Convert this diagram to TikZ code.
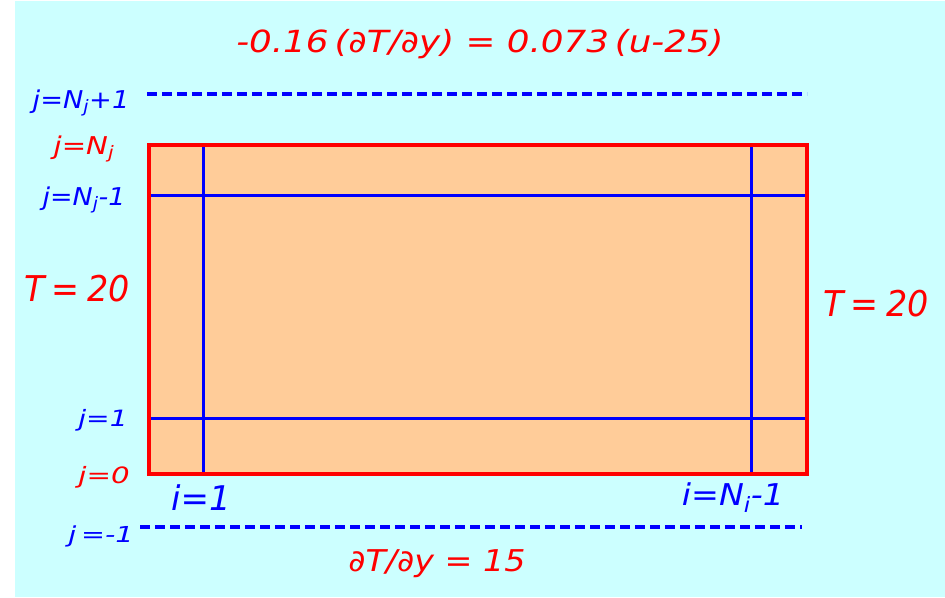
\documentclass[tikz,border=0pt]{standalone}
\usepackage{fontspec}
\setmainfont{DejaVu Sans}
\definecolor{bgcyan}{HTML}{CCFFFF}
\definecolor{plate}{HTML}{FFCC99}
\definecolor{rred}{HTML}{FF0000}
\definecolor{bblue}{HTML}{0000FF}
\newcommand{\wx}[2]{\scalebox{#1}[1]{#2}}
\tikzset{
  lbl/.style={inner sep=0pt, anchor=base, font=\itshape\fontsize{#1}{#1}\selectfont},
  redlbl/.style={lbl=#1, text=rred},
  bluelbl/.style={lbl=#1, text=bblue},
  gridline/.style={draw=bblue, line width=3pt},
  ghostline/.style={draw=bblue, line width=4pt, dash pattern=on 10pt off 5pt},
  border/.style={draw=rred, line width=3.3pt, fill=plate}
}
\begin{document}
\begin{tikzpicture}[x=1pt, y=-1pt]
\useasboundingbox (0,0) rectangle (945,597);
\fill[white] (0,0) rectangle (945,597);
\fill[bgcyan] (15,1) rectangle (945,597);
% plate
\coordinate (p1) at (149,145);
\coordinate (p2) at (807,474);
\draw[border] (p1) rectangle (p2);
% grid lines
\coordinate (v1t) at (203,145); \coordinate (v1b) at (203,474);
\coordinate (v2t) at (751,145); \coordinate (v2b) at (751,474);
\coordinate (h1l) at (149,195); \coordinate (h1r) at (807,195);
\coordinate (h2l) at (149,418); \coordinate (h2r) at (807,418);
\draw[gridline] (v1t) -- (v1b);
\draw[gridline] (v2t) -- (v2b);
\draw[gridline] (h1l) -- (h1r);
\draw[gridline] (h2l) -- (h2r);
\draw[border, fill=none] (p1) rectangle (p2);
% ghost lines
\coordinate (gtl) at (147,94); \coordinate (gtr) at (807,94);
\coordinate (gbl) at (140,527); \coordinate (gbr) at (802,527);
\draw[ghostline] (gtl) -- (gtr);
\draw[ghostline] (gbl) -- (gbr);
% labels
\node[redlbl=30.5] (title) at (480,52) {\wx{1.17}{-0.16\,(∂T/∂y) = 0.073\,(u-25)}};
\node[bluelbl=24.5] (jNp) at (81,108) {\wx{1.11}{j=N\textsubscript{j}+1}};
\node[redlbl=24.5] (jN) at (84,154) {\wx{1.19}{j=N\textsubscript{j}}};
\node[bluelbl=24.5] (jNm) at (84,205) {\wx{1.10}{j=N\textsubscript{j}-1}};
\node[redlbl=35.5] (Tl) at (77,301) {\wx{0.94}{T\hspace{0.22em}=\hspace{0.22em}20}};
\node[redlbl=35.5] (Tr) at (876,316) {\wx{0.94}{T\hspace{0.22em}=\hspace{0.22em}20}};
\node[bluelbl=22.5] (j1) at (103,426) {\wx{1.25}{j=1}};
\node[redlbl=22.5] (j0) at (104,483) {\wx{1.3}{j=0}};
\node[bluelbl=34] (i1) at (201,510) {i=1};
\node[bluelbl=30] (iN) at (733,505) {\wx{1.11}{i=N\textsubscript{i}-1}};
\node[bluelbl=22] (jm1) at (101,542) {\wx{1.3}{j\,=-1}};
\node[redlbl=30] (bot) at (437,571) {\wx{1.11}{∂T/∂y = 15}};
\end{tikzpicture}
\end{document}
